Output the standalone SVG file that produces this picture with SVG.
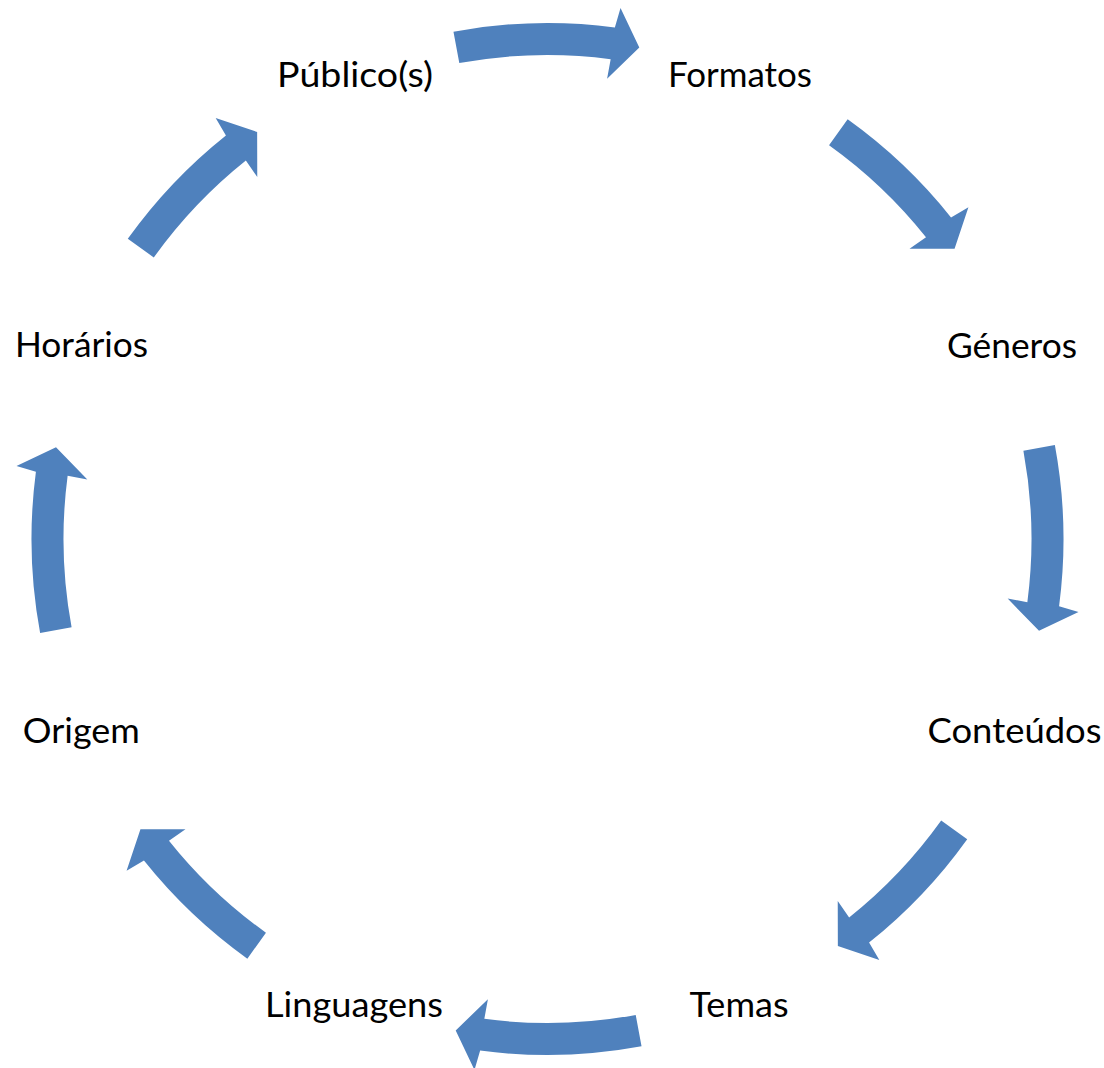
<svg xmlns="http://www.w3.org/2000/svg" xmlns:xlink="http://www.w3.org/1999/xlink" width="1104" height="1068" viewBox="0 0 1104 1068">
<style>
.lbl{font-family:Lato,"Liberation Sans",sans-serif;font-size:35px;fill:#000;text-anchor:middle}
.arr{fill:#4F81BD}
</style>
<defs>
<path id="arrowA" d="M -94.03 -507.36 A 516 516 0 0 1 67.35 -511.59 L 73.02 -531.00 L 91.80 -491.50 L 59.60 -460.16 L 63.17 -479.86 A 484 484 0 0 0 -88.20 -475.90 Z"/>
<path id="arrowB" d="M -84.54 -509.03 A 516 516 0 0 1 57.96 -512.73 L 63.00 -532.28 L 82.52 -493.14 L 50.76 -461.22 L 54.37 -480.94 A 484 484 0 0 0 -79.30 -477.46 Z"/>
</defs>
<rect width="1104" height="1068" fill="#fff"/>
<g id="connectors" class="arr">
<use xlink:href="#arrowA" href="#arrowA" transform="translate(547.5,539) rotate(0)"/>
<use xlink:href="#arrowB" href="#arrowB" transform="translate(547.5,539) rotate(45)"/>
<use xlink:href="#arrowA" href="#arrowA" transform="translate(547.5,539) rotate(90)"/>
<use xlink:href="#arrowB" href="#arrowB" transform="translate(547.5,539) rotate(135)"/>
<use xlink:href="#arrowA" href="#arrowA" transform="translate(547.5,539) rotate(180)"/>
<use xlink:href="#arrowB" href="#arrowB" transform="translate(547.5,539) rotate(225)"/>
<use xlink:href="#arrowA" href="#arrowA" transform="translate(547.5,539) rotate(270)"/>
<use xlink:href="#arrowB" href="#arrowB" transform="translate(547.5,539) rotate(315)"/>
</g>
<g id="node-publico"><text class="lbl" x="355" y="87" textLength="156" lengthAdjust="spacingAndGlyphs">Público(s)</text></g>
<g id="node-formatos"><text class="lbl" x="740" y="87" textLength="144" lengthAdjust="spacingAndGlyphs">Formatos</text></g>
<g id="node-generos"><text class="lbl" x="1012" y="358" textLength="130" lengthAdjust="spacingAndGlyphs">Géneros</text></g>
<g id="node-conteudos"><text class="lbl" x="1014.5" y="743" textLength="174" lengthAdjust="spacingAndGlyphs">Conteúdos</text></g>
<g id="node-temas"><text class="lbl" x="739" y="1017" textLength="99" lengthAdjust="spacingAndGlyphs">Temas</text></g>
<g id="node-linguagens"><text class="lbl" x="354" y="1017" textLength="178" lengthAdjust="spacingAndGlyphs">Linguagens</text></g>
<g id="node-origem"><text class="lbl" x="81.3" y="743" textLength="117" lengthAdjust="spacingAndGlyphs">Origem</text></g>
<g id="node-horarios"><text class="lbl" x="81.5" y="357" textLength="133" lengthAdjust="spacingAndGlyphs">Horários</text></g>
</svg>
